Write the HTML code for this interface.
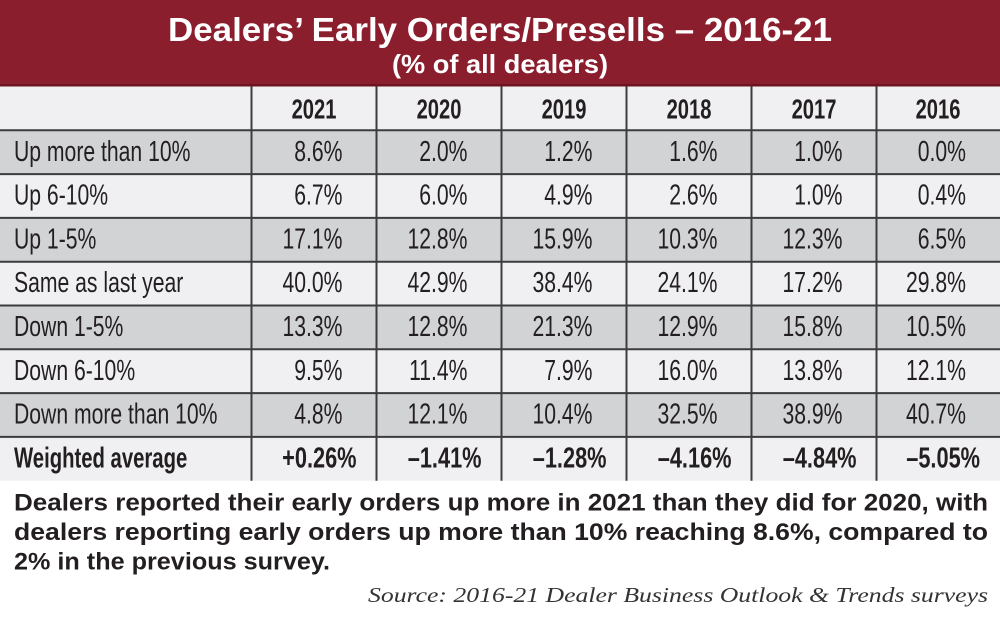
<!DOCTYPE html>
<html><head><meta charset="utf-8"><style>
html,body{margin:0;padding:0;background:#fff;}
svg{display:block;}
.t{font-family:"Liberation Sans",sans-serif;fill:#231f20;}
.n{font-size:29px;}
.b{font-size:29px;font-weight:bold;}
</style></head><body>
<svg width="1000" height="619" viewBox="0 0 1000 619" xmlns="http://www.w3.org/2000/svg">
<rect x="0" y="0" width="1000" height="619" fill="#fff"/>
<rect x="0" y="0" width="1000" height="86" fill="#8b1e2d"/>
<rect x="0" y="84" width="1000" height="2.5" fill="#6e1420"/>
<text x="168" y="41" font-family="Liberation Sans, sans-serif" font-weight="bold" font-size="33" fill="#fff" textLength="664" lengthAdjust="spacingAndGlyphs">Dealers’ Early Orders/Presells – 2016-21</text>
<text x="392" y="73" font-family="Liberation Sans, sans-serif" font-weight="bold" font-size="26" fill="#fff" textLength="216" lengthAdjust="spacingAndGlyphs">(% of all dealers)</text>

<!-- row backgrounds -->
<rect x="0" y="86.5" width="1000" height="43.8" fill="#f0f0f2"/>
<rect x="0" y="130.3" width="1000" height="43.8" fill="#d2d3d5"/>
<rect x="0" y="174.1" width="1000" height="43.8" fill="#f0f0f2"/>
<rect x="0" y="217.9" width="1000" height="43.8" fill="#d2d3d5"/>
<rect x="0" y="261.7" width="1000" height="43.8" fill="#f0f0f2"/>
<rect x="0" y="305.5" width="1000" height="43.8" fill="#d2d3d5"/>
<rect x="0" y="349.3" width="1000" height="43.8" fill="#f0f0f2"/>
<rect x="0" y="393.1" width="1000" height="43.8" fill="#d2d3d5"/>
<rect x="0" y="436.9" width="1000" height="43.8" fill="#f0f0f2"/>

<!-- grid lines -->
<g stroke="#3c3c3e" stroke-width="2">
<line x1="0" y1="130.3" x2="1000" y2="130.3"/>
<line x1="0" y1="174.1" x2="1000" y2="174.1"/>
<line x1="0" y1="217.9" x2="1000" y2="217.9"/>
<line x1="0" y1="261.7" x2="1000" y2="261.7"/>
<line x1="0" y1="305.5" x2="1000" y2="305.5"/>
<line x1="0" y1="349.3" x2="1000" y2="349.3"/>
<line x1="0" y1="393.1" x2="1000" y2="393.1"/>
<line x1="0" y1="436.9" x2="1000" y2="436.9"/>
<line x1="251.5" y1="86" x2="251.5" y2="480.7"/>
<line x1="376.5" y1="86" x2="376.5" y2="480.7"/>
<line x1="501.5" y1="86" x2="501.5" y2="480.7"/>
<line x1="626.5" y1="86" x2="626.5" y2="480.7"/>
<line x1="751.5" y1="86" x2="751.5" y2="480.7"/>
<line x1="876.5" y1="86" x2="876.5" y2="480.7"/>
</g>

<!-- header -->
<g class="t" font-size="28" font-weight="bold" text-anchor="middle">
<text transform="translate(314,118.5) scale(0.72,1)">2021</text>
<text transform="translate(439,118.5) scale(0.72,1)">2020</text>
<text transform="translate(564,118.5) scale(0.72,1)">2019</text>
<text transform="translate(689,118.5) scale(0.72,1)">2018</text>
<text transform="translate(814,118.5) scale(0.72,1)">2017</text>
<text transform="translate(938,118.5) scale(0.72,1)">2016</text>
</g>

<!-- labels -->
<g class="t n">
<text transform="translate(14,160.8) scale(0.73,1)">Up more than 10%</text>
<text transform="translate(14,204.6) scale(0.73,1)">Up 6-10%</text>
<text transform="translate(14,248.4) scale(0.73,1)">Up 1-5%</text>
<text transform="translate(14,292.2) scale(0.73,1)">Same as last year</text>
<text transform="translate(14,336) scale(0.73,1)">Down 1-5%</text>
<text transform="translate(14,379.8) scale(0.73,1)">Down 6-10%</text>
<text transform="translate(14,423.6) scale(0.73,1)">Down more than 10%</text>
</g>
<g class="t b">
<text transform="translate(14,467.4) scale(0.70,1)">Weighted average</text>
</g>

<!-- values -->
<g class="t n" text-anchor="end">
<text transform="translate(342.5,160.8) scale(0.73,1)">8.6%</text>
<text transform="translate(467.5,160.8) scale(0.73,1)">2.0%</text>
<text transform="translate(592.5,160.8) scale(0.73,1)">1.2%</text>
<text transform="translate(717.5,160.8) scale(0.73,1)">1.6%</text>
<text transform="translate(842.5,160.8) scale(0.73,1)">1.0%</text>
<text transform="translate(966,160.8) scale(0.73,1)">0.0%</text>

<text transform="translate(342.5,204.6) scale(0.73,1)">6.7%</text>
<text transform="translate(467.5,204.6) scale(0.73,1)">6.0%</text>
<text transform="translate(592.5,204.6) scale(0.73,1)">4.9%</text>
<text transform="translate(717.5,204.6) scale(0.73,1)">2.6%</text>
<text transform="translate(842.5,204.6) scale(0.73,1)">1.0%</text>
<text transform="translate(966,204.6) scale(0.73,1)">0.4%</text>

<text transform="translate(342.5,248.4) scale(0.73,1)">17.1%</text>
<text transform="translate(467.5,248.4) scale(0.73,1)">12.8%</text>
<text transform="translate(592.5,248.4) scale(0.73,1)">15.9%</text>
<text transform="translate(717.5,248.4) scale(0.73,1)">10.3%</text>
<text transform="translate(842.5,248.4) scale(0.73,1)">12.3%</text>
<text transform="translate(966,248.4) scale(0.73,1)">6.5%</text>

<text transform="translate(342.5,292.2) scale(0.73,1)">40.0%</text>
<text transform="translate(467.5,292.2) scale(0.73,1)">42.9%</text>
<text transform="translate(592.5,292.2) scale(0.73,1)">38.4%</text>
<text transform="translate(717.5,292.2) scale(0.73,1)">24.1%</text>
<text transform="translate(842.5,292.2) scale(0.73,1)">17.2%</text>
<text transform="translate(966,292.2) scale(0.73,1)">29.8%</text>

<text transform="translate(342.5,336) scale(0.73,1)">13.3%</text>
<text transform="translate(467.5,336) scale(0.73,1)">12.8%</text>
<text transform="translate(592.5,336) scale(0.73,1)">21.3%</text>
<text transform="translate(717.5,336) scale(0.73,1)">12.9%</text>
<text transform="translate(842.5,336) scale(0.73,1)">15.8%</text>
<text transform="translate(966,336) scale(0.73,1)">10.5%</text>

<text transform="translate(342.5,379.8) scale(0.73,1)">9.5%</text>
<text transform="translate(467.5,379.8) scale(0.73,1)">11.4%</text>
<text transform="translate(592.5,379.8) scale(0.73,1)">7.9%</text>
<text transform="translate(717.5,379.8) scale(0.73,1)">16.0%</text>
<text transform="translate(842.5,379.8) scale(0.73,1)">13.8%</text>
<text transform="translate(966,379.8) scale(0.73,1)">12.1%</text>

<text transform="translate(342.5,423.6) scale(0.73,1)">4.8%</text>
<text transform="translate(467.5,423.6) scale(0.73,1)">12.1%</text>
<text transform="translate(592.5,423.6) scale(0.73,1)">10.4%</text>
<text transform="translate(717.5,423.6) scale(0.73,1)">32.5%</text>
<text transform="translate(842.5,423.6) scale(0.73,1)">38.9%</text>
<text transform="translate(966,423.6) scale(0.73,1)">40.7%</text>
</g>
<g class="t b" text-anchor="end">
<text transform="translate(356.5,467.4) scale(0.75,1)">+0.26%</text>
<text transform="translate(481.5,467.4) scale(0.75,1)">–1.41%</text>
<text transform="translate(606.5,467.4) scale(0.75,1)">–1.28%</text>
<text transform="translate(731.5,467.4) scale(0.75,1)">–4.16%</text>
<text transform="translate(856.5,467.4) scale(0.75,1)">–4.84%</text>
<text transform="translate(980,467.4) scale(0.75,1)">–5.05%</text>
</g>

<!-- paragraph -->
<g font-family="Liberation Sans, sans-serif" font-weight="bold" font-size="24" fill="#231f20">
<text x="14" y="510.5" textLength="974" lengthAdjust="spacingAndGlyphs">Dealers reported their early orders up more in 2021 than they did for 2020, with</text>
<text x="14" y="540" textLength="974" lengthAdjust="spacingAndGlyphs">dealers reporting early orders up more than 10% reaching 8.6%, compared to</text>
<text x="14" y="569.5" textLength="316" lengthAdjust="spacingAndGlyphs">2% in the previous survey.</text>
</g>
<text x="368" y="602" font-family="Liberation Serif, serif" font-style="italic" font-size="21" fill="#333" textLength="620" lengthAdjust="spacingAndGlyphs">Source: 2016-21 Dealer Business Outlook &amp; Trends surveys</text>
</svg>
</body></html>
